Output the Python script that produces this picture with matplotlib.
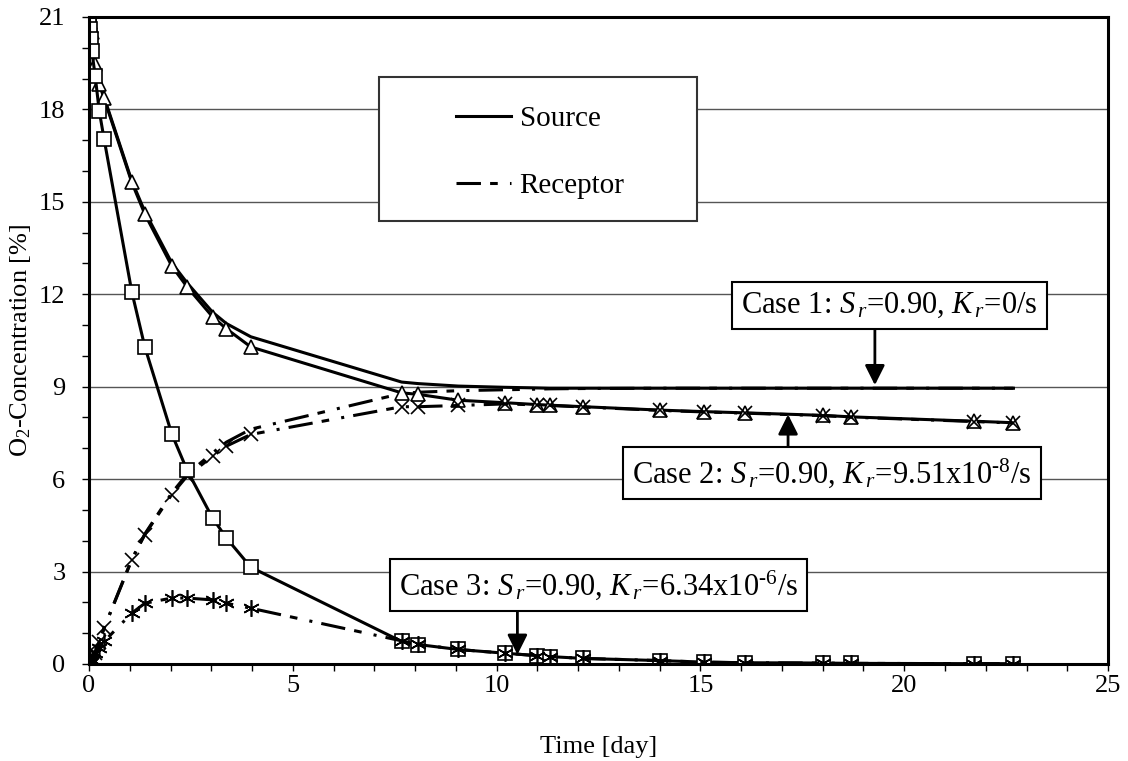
import numpy as np
import matplotlib
matplotlib.use("Agg")
import matplotlib.pyplot as plt
from matplotlib.lines import Line2D
from matplotlib.patches import Rectangle
from matplotlib.ticker import MultipleLocator

plt.rcParams['font.family'] = ['Liberation Serif', 'DejaVu Serif']
plt.rcParams['mathtext.fontset'] = 'custom'
plt.rcParams['mathtext.rm'] = 'Liberation Serif'
plt.rcParams['mathtext.it'] = 'Liberation Serif:italic'

# time points [day]
t = [0, 0.01, 0.02, 0.04, 0.07, 0.15, 0.25, 0.37, 1.05, 1.37, 2.03, 2.40, 3.03, 3.37,
     3.97, 7.67, 8.08, 9.06, 10.2, 10.98, 11.3, 12.13, 14.0, 15.1, 16.1, 18.0, 18.7,
     21.7, 22.68]

# case 1: Kr = 0/s
src1 = [21, 20.95, 20.85, 20.7, 20.5, 19.5, 18.86, 18.4, 15.68, 14.68, 13.02, 12.38,
        11.42, 11.05, 10.62, 9.15, 9.1, 9.02, 8.98, 8.96, 8.95, 8.95, 8.95, 8.95, 8.95,
        8.95, 8.95, 8.95, 8.95]
rec1 = [0, 0.01, 0.03, 0.06, 0.1, 0.35, 0.7, 1.17, 3.4, 4.22, 5.55, 6.15, 6.85, 7.2,
        7.62, 8.78, 8.82, 8.87, 8.9, 8.92, 8.93, 8.94, 8.95, 8.95, 8.95, 8.95, 8.95,
        8.95, 8.95]

# case 2: Kr = 9.51e-8/s
src2 = [21, 20.95, 20.85, 20.7, 20.5, 19.48, 18.83, 18.36, 15.63, 14.6, 12.92, 12.25,
        11.27, 10.88, 10.29, 8.8, 8.75, 8.56, 8.48, 8.42, 8.40, 8.35, 8.24, 8.19, 8.15,
        8.07, 8.02, 7.88, 7.83]
rec2 = [0, 0.01, 0.03, 0.06, 0.1, 0.35, 0.7, 1.16, 3.38, 4.2, 5.5, 6.09, 6.74, 7.07,
        7.45, 8.35, 8.35, 8.39, 8.44, 8.41, 8.39, 8.34, 8.23, 8.18, 8.14, 8.06, 8.01,
        7.87, 7.82]

# case 3: Kr = 6.34e-6/s
src3 = [21, 20.78, 20.6, 20.3, 19.9, 19.1, 17.96, 17.04, 12.08, 10.29, 7.47, 6.31,
        4.74, 4.09, 3.14, 0.73, 0.63, 0.47, 0.35, 0.27, 0.24, 0.18, 0.11, 0.06, 0.04,
        0.03, 0.02, 0.01, 0.01]
rec3 = [0, 0.01, 0.03, 0.06, 0.13, 0.35, 0.51, 0.73, 1.65, 1.97, 2.14, 2.14, 2.08,
        1.97, 1.81, 0.75, 0.64, 0.47, 0.35, 0.27, 0.24, 0.18, 0.11, 0.06, 0.04, 0.03,
        0.02, 0.01, 0.01]

# annotation labels, text centres, arrow start (box edge) and arrow tip
case_labels = [r'Case 1: $S_{\,r}$=0.90, $K_{\,r}$=0/s',
               r'Case 2: $S_{\,r}$=0.90, $K_{\,r}$=9.51x10$^{\text{-8}}$/s',
               r'Case 3: $S_{\,r}$=0.90, $K_{\,r}$=6.34x10$^{\text{-6}}$/s']
case_text_xy = [(19.63, 11.63), (18.23, 6.2), (12.5, 2.55)]
case_arrow_from = [(19.28, 11.0), (17.15, 6.6), (10.51, 2.9)]
case_arrow_to = [(19.28, 9.05), (17.15, 8.1), (10.51, 0.3)]

dashdot = (0, (8, 3, 2.5, 4, 1, 3))
lw = 2.2

fig = plt.figure(figsize=(11.28, 7.61), dpi=100)
ax = fig.add_axes([0.0789, 0.1275, 0.9034, 0.8502])

ax.plot(t, src1, color='black', lw=lw)
ax.plot(t, rec1, color='black', lw=lw, linestyle=dashdot)
ax.plot(t, src2, color='black', lw=lw, marker='^', ms=10, mfc='white', mec='black', mew=1.2)
ax.plot(t, rec2, color='black', lw=lw, linestyle=dashdot, marker='x', ms=10, mec='black', mew=1.2)
ax.plot(t, src3, color='black', lw=lw, marker='s', ms=10, mfc='white', mec='black', mew=1.2)
ax.plot(t, rec3, color='black', lw=lw, linestyle=dashdot, marker=(6, 2, 0), ms=12, mec='black', mew=1.2)

ax.set_xlim(0, 25)
ax.set_ylim(0, 21)
ax.xaxis.set_major_locator(MultipleLocator(5))
ax.xaxis.set_minor_locator(MultipleLocator(1))
ax.yaxis.set_major_locator(MultipleLocator(3))
ax.yaxis.set_minor_locator(MultipleLocator(1))
ax.tick_params(which='both', direction='out', length=5, width=1, labelsize=19)
ax.tick_params(axis='y', pad=12)
ax.tick_params(axis='x', pad=3)
ax.grid(axis='y', which='major', color='#555555', lw=1)
ax.set_axisbelow(True)
for s in ax.spines.values():
    s.set_linewidth(2.2)

ax.set_xlabel('Time [day]', fontsize=19, labelpad=28)
ax.set_ylabel('O$_2$-Concentration [%]', fontsize=19)

# legend
ax.add_patch(Rectangle((0.285, 0.685), 0.312, 0.222, transform=ax.transAxes,
                       facecolor='white', edgecolor='#333333', lw=1.5, zorder=4))
handles = [Line2D([], [], color='black', lw=lw),
           Line2D([], [], color='black', lw=lw, linestyle=dashdot)]
leg = ax.legend(handles, ['Source', 'Receptor'], loc='center', bbox_to_anchor=(0.4426, 0.791),
                frameon=False, fontsize=21, handlelength=1.9, labelspacing=1.4, handletextpad=0.3)
leg.set_zorder(5)

box = dict(boxstyle='square,pad=0.3', facecolor='white', edgecolor='black', lw=1.5)
for label, txy, a0, a1 in zip(case_labels, case_text_xy, case_arrow_from, case_arrow_to):
    ax.text(txy[0], txy[1], label, fontsize=22, ha='center', va='center', bbox=box, zorder=7)
    ax.annotate('', xy=a1, xytext=a0,
                arrowprops=dict(arrowstyle='-|>,head_length=0.8,head_width=0.4', color='black',
                                lw=2, shrinkA=0, shrinkB=0, mutation_scale=15), zorder=6)

fig.savefig('out.png', dpi=100)
